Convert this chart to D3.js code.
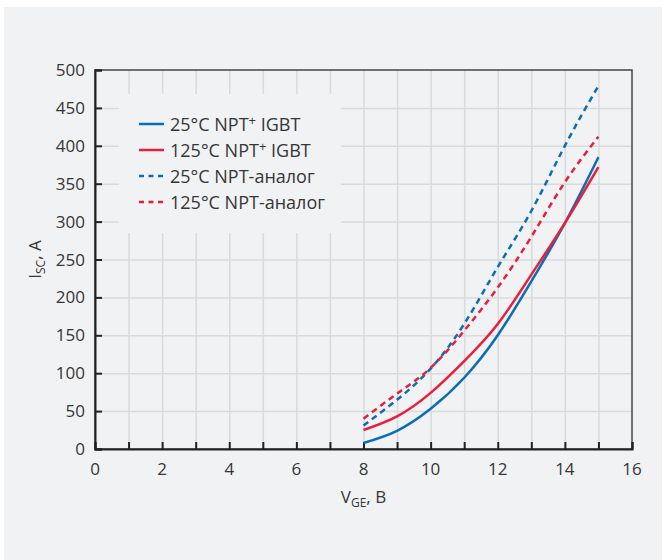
<!DOCTYPE html>
<html>
<head>
<meta charset="utf-8">
<script src="https://cdn.jsdelivr.net/npm/d3@7"></script>
<style>
  body { margin: 0; background: #fff; }
  text { font-family: "Open Sans", sans-serif; fill: #363636; }
</style>
</head>
<body>
<script>
// data
var voltages = [8, 9, 10, 11, 12, 13, 14, 15];
var igbt25 = [8, 24, 53, 94, 150, 221, 298, 385];
var igbt125 = [25, 43, 74, 116, 165, 230, 298, 372];
var analog25 = [31, 65, 106, 165, 240, 314, 400, 479];
var analog125 = [40, 73, 107, 156, 213, 280, 352, 412];
var xTicks = [0, 2, 4, 6, 8, 10, 12, 14, 16];
var yTicks = [0, 50, 100, 150, 200, 250, 300, 350, 400, 450, 500];

var series = [
  {name: "25°C NPT", sup: "+", tail: " IGBT", values: igbt25, color: "#0b6db5", dash: null},
  {name: "125°C NPT", sup: "+", tail: " IGBT", values: igbt125, color: "#e71f3a", dash: null},
  {name: "25°C NPT-аналог", sup: "", tail: "", values: analog25, color: "#0b6db5", dash: "6,4.5"},
  {name: "125°C NPT-аналог", sup: "", tail: "", values: analog125, color: "#e71f3a", dash: "6,4.5"}
];

var w = 666, h = 560;
var svg = d3.select("body").append("svg")
    .attr("width", w)
    .attr("height", h);

// grey panel
svg.append("rect")
    .attr("x", 4).attr("y", 7)
    .attr("width", 658).attr("height", 553)
    .attr("fill", "#f1f2f4");

var pLeft = 95, pRight = 632, pTop = 70, pBottom = 449;

var x = d3.scaleLinear().domain([0, 16]).range([pLeft, pRight]);
var y = d3.scaleLinear().domain([0, 500]).range([pBottom, pTop]);

// grid
svg.append("g")
    .attr("transform", "translate(0," + pBottom + ")")
    .call(d3.axisBottom(x).tickValues(d3.range(1, 16)).tickSize(-(pBottom - pTop)).tickFormat(""))
    .call(function(g) {
      g.select(".domain").remove();
      g.selectAll("line").attr("stroke", "#d9dadc").attr("stroke-width", 1.5);
    });
svg.append("g")
    .attr("transform", "translate(" + pLeft + ",0)")
    .call(d3.axisLeft(y).tickValues(yTicks.slice(1, -1)).tickSize(-(pRight - pLeft)).tickFormat(""))
    .call(function(g) {
      g.select(".domain").remove();
      g.selectAll("line").attr("stroke", "#d9dadc").attr("stroke-width", 1.5);
    });

// legend background hides grid
svg.append("rect")
    .attr("x", 119).attr("y", 94)
    .attr("width", 222).attr("height", 139)
    .attr("fill", "#f1f2f4");

// frame
svg.append("rect")
    .attr("x", pLeft).attr("y", pTop)
    .attr("width", pRight - pLeft).attr("height", pBottom - pTop)
    .attr("fill", "none")
    .attr("stroke", "#444")
    .attr("stroke-width", 1.5);

// axes with inner ticks
var xAxis = svg.append("g")
    .attr("transform", "translate(0," + pBottom + ")")
    .call(d3.axisBottom(x).tickValues(d3.range(0, 17)).tickSize(-7).tickFormat(""));
xAxis.selectAll("line").attr("stroke", "#222").attr("stroke-width", 2);
xAxis.select(".domain").attr("stroke", "#222").attr("stroke-width", 2);

var yAxis = svg.append("g")
    .attr("transform", "translate(" + pLeft + ",0)")
    .call(d3.axisLeft(y).tickValues(yTicks).tickSize(-7).tickFormat(""));
yAxis.selectAll("line").attr("stroke", "#222").attr("stroke-width", 2);
yAxis.select(".domain").attr("stroke", "#222").attr("stroke-width", 2);

// tick labels
svg.selectAll(".xlab")
    .data(xTicks)
    .enter()
    .append("text")
    .attr("x", function(d) { return x(d); })
    .attr("y", pBottom + 26)
    .attr("text-anchor", "middle")
    .attr("font-size", 17)
    .text(function(d) { return d; });

svg.selectAll(".ylab")
    .data(yTicks)
    .enter()
    .append("text")
    .attr("x", pLeft - 10)
    .attr("y", function(d) { return y(d) + 6; })
    .attr("text-anchor", "end")
    .attr("font-size", 17)
    .text(function(d) { return d; });

// axis titles
var xt = svg.append("text")
    .attr("x", (pLeft + pRight) / 2)
    .attr("y", 503)
    .attr("text-anchor", "middle")
    .attr("font-size", 17);
xt.append("tspan").text("V");
xt.append("tspan").attr("font-size", 12).attr("dy", 4).text("GE");
xt.append("tspan").attr("dy", -4).text(", B");

var yt = svg.append("text")
    .attr("transform", "translate(41," + (pTop + pBottom) / 2 + ") rotate(-90)")
    .attr("text-anchor", "middle")
    .attr("font-size", 17);
yt.append("tspan").text("I");
yt.append("tspan").attr("font-size", 12).attr("dy", 4).text("SC");
yt.append("tspan").attr("dy", -4).text(", A");

// curves
var line = d3.line()
    .x(function(d, i) { return x(voltages[i]); })
    .y(function(d) { return y(d); })
    .curve(d3.curveNatural);

svg.selectAll(".curve")
    .data(series)
    .enter()
    .append("path")
    .attr("d", function(d) { return line(d.values); })
    .attr("fill", "none")
    .attr("stroke", function(d) { return d.color; })
    .attr("stroke-width", 2.5)
    .attr("stroke-dasharray", function(d) { return d.dash; });

// legend
var leg = svg.selectAll(".leg")
    .data(series)
    .enter()
    .append("g")
    .attr("transform", function(d, i) { return "translate(139," + (124 + i * 26) + ")"; });

leg.append("line")
    .attr("x1", 0).attr("x2", 25)
    .attr("stroke", function(d) { return d.color; })
    .attr("stroke-width", 2.5)
    .attr("stroke-dasharray", function(d) { return d.dash ? "5,4.5" : null; });

var lt = leg.append("text")
    .attr("x", 31)
    .attr("y", 6.5)
    .attr("font-size", 18);
lt.append("tspan").text(function(d) { return d.name; });
lt.append("tspan").attr("font-size", 13).attr("dy", -6).text(function(d) { return d.sup; });
lt.append("tspan").attr("dy", 6).text(function(d) { return d.tail; });
</script>
</body>
</html>
